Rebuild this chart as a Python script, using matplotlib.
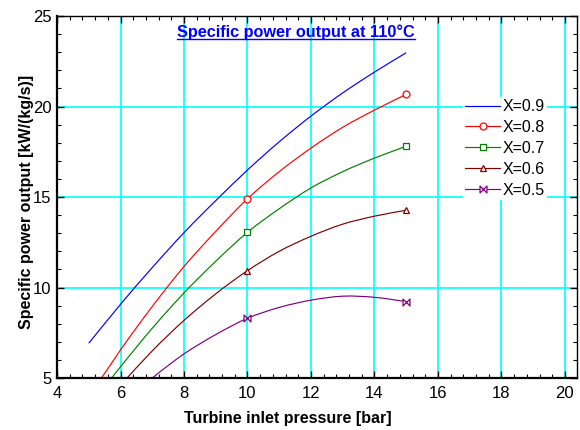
import matplotlib
matplotlib.use("Agg")
import matplotlib.pyplot as plt
from matplotlib.path import Path
from matplotlib.patches import PathPatch
from matplotlib.lines import Line2D
from matplotlib.ticker import MultipleLocator

plt.rcParams['font.family'] = ['Liberation Sans', 'DejaVu Sans']

# Turbine inlet pressure [bar]
pressure = [5, 6, 7, 8, 9, 10, 11, 12, 13, 14, 15]

# Specific power output [kW/(kg/s)] for each vapour quality X
power_x09 = [6.92, 9.07, 11.10, 13.03, 14.80, 16.49, 18.05, 19.47, 20.75, 21.90, 22.97]
power_x08 = [3.93, 6.55, 8.95, 11.16, 13.10, 14.90, 16.40, 17.70, 18.85, 19.80, 20.67]
power_x07 = [3.40, 5.62, 7.75, 9.70, 11.45, 13.05, 14.35, 15.50, 16.40, 17.15, 17.80]
power_x06 = [2.70, 4.60, 6.50, 8.18, 9.65, 10.93, 12.00, 12.83, 13.50, 13.94, 14.27]
power_x05 = [1.90, 3.50, 5.00, 6.33, 7.40, 8.30, 8.90, 9.30, 9.52, 9.46, 9.22]

labels = ["X=0.9", "X=0.8", "X=0.7", "X=0.6", "X=0.5"]
title = "Specific power output at 110°C"

bowtie = Path([(-1, -1), (-1, 1), (1, -1), (1, 1), (-1, -1)],
              [Path.MOVETO, Path.LINETO, Path.LINETO, Path.LINETO, Path.CLOSEPOLY])

series = [
    (power_x09, "#0000ff", None),
    (power_x08, "#ff0000", "o"),
    (power_x07, "#008000", "s"),
    (power_x06, "#800000", "^"),
    (power_x05, "#800080", bowtie),
]


def smooth_path(xs, ys):
    """Catmull-Rom spline through the points, expressed as cubic Bezier segments."""
    pts = list(zip(xs, ys))
    verts = [pts[0]]
    codes = [Path.MOVETO]
    n = len(pts)
    for i in range(n - 1):
        p0 = pts[i - 1] if i > 0 else pts[i]
        p1 = pts[i]
        p2 = pts[i + 1]
        p3 = pts[i + 2] if i + 2 < n else pts[i + 1]
        c1 = (p1[0] + (p2[0] - p0[0]) / 6, p1[1] + (p2[1] - p0[1]) / 6)
        c2 = (p2[0] - (p3[0] - p1[0]) / 6, p2[1] - (p3[1] - p1[1]) / 6)
        verts += [c1, c2, p2]
        codes += [Path.CURVE4] * 3
    return Path(verts, codes)


fig = plt.figure(figsize=(5.8, 4.3), dpi=100)
ax = fig.add_axes([0.0983, 0.1209, 0.8965, 0.8419])

marker_idx = [pressure.index(10), pressure.index(15)]
handles = []
for (vals, color, mk), lab in zip(series, labels):
    ax.add_patch(PathPatch(smooth_path(pressure, vals), facecolor="none",
                           edgecolor=color, lw=0.85, zorder=2))
    kw = dict(color=color, lw=0.85)
    if mk is not None:
        kw.update(marker=mk, markersize=5, markerfacecolor="white",
                  markeredgecolor=color, markeredgewidth=0.9)
        ax.plot([pressure[i] for i in marker_idx], [vals[i] for i in marker_idx],
                linestyle="none", zorder=3, **{k: v for k, v in kw.items() if k != "lw"})
    handles.append(Line2D([], [], label=lab, **kw))

ax.set_xlim(4, 20.38)
ax.set_ylim(5, 25)
ax.xaxis.set_major_locator(MultipleLocator(2))
ax.xaxis.set_minor_locator(MultipleLocator(0.4))
ax.yaxis.set_major_locator(MultipleLocator(5))
ax.yaxis.set_minor_locator(MultipleLocator(1))

ax.grid(True, which="major", color="#00ffff", lw=1.2, zorder=0)
ax.set_axisbelow(True)

ax.tick_params(which="both", direction="in", top=True, right=True,
               labelsize=12, colors="black")
ax.tick_params(which="major", length=5, width=1)
ax.tick_params(which="minor", length=3, width=0.8)
ax.tick_params(axis="x", pad=6)
ax.tick_params(axis="y", pad=4)

for side in ("bottom", "left"):
    ax.spines[side].set_linewidth(1.6)
for side in ("top", "right"):
    ax.spines[side].set_linewidth(1.0)

ax.set_xlabel("Turbine inlet pressure [bar]", fontsize=11.5, fontweight="bold")
ax.set_ylabel("Specific power output [kW/(kg/s)]", fontsize=11.5, fontweight="bold")
ax.xaxis.set_label_coords(0.443, -0.09)
ax.yaxis.set_label_coords(-0.045, 0.486)

leg = ax.legend(handles=handles, loc="upper left", bbox_to_anchor=(0.78, 0.777),
                fontsize=11.5, frameon=True, fancybox=False,
                borderpad=0.15, handlelength=2.2, handletextpad=0.15,
                labelspacing=0.37, borderaxespad=0)
leg.get_frame().set_facecolor("white")
leg.get_frame().set_edgecolor("none")
leg.get_frame().set_alpha(1.0)

t = ax.text(0.46, 0.956, title, transform=ax.transAxes, ha="center", va="center",
            fontsize=11.7, fontweight="bold", color="#0000ff")

# underline the heading
fig.canvas.draw()
bb = t.get_window_extent().transformed(fig.transFigure.inverted())
fig.add_artist(Line2D([bb.x0, bb.x1], [bb.y0 + 0.002, bb.y0 + 0.002],
                      transform=fig.transFigure, color="#0000ff", lw=1.0))

fig.savefig("out.png", dpi=100)
